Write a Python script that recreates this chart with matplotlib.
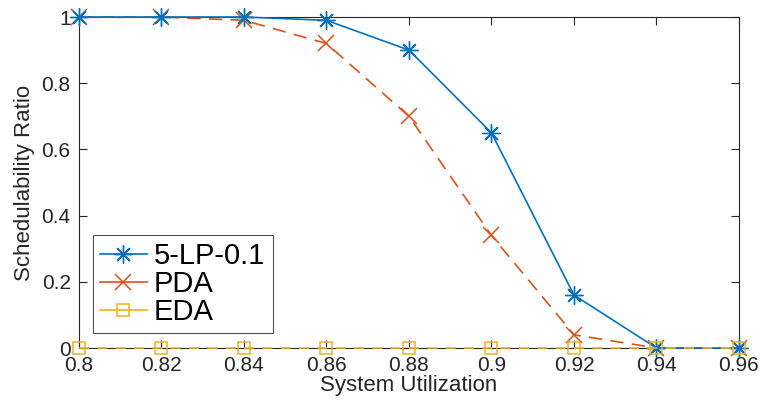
import numpy as np
import matplotlib.pyplot as plt

plt.rcParams['font.family'] = ['Liberation Sans', 'DejaVu Sans']

# schedulability ratio per system utilization
util = [0.80, 0.82, 0.84, 0.86, 0.88, 0.90, 0.92, 0.94, 0.96]
lp = [1.0, 1.0, 1.0, 0.99, 0.90, 0.65, 0.16, 0.0, 0.0]
pda = [1.0, 1.0, 0.99, 0.92, 0.70, 0.34, 0.04, 0.0, 0.0]
eda = [0.0, 0.0, 0.0, 0.0, 0.0, 0.0, 0.0, 0.0, 0.0]

xticks = [0.8, 0.82, 0.84, 0.86, 0.88, 0.9, 0.92, 0.94, 0.96]
xticklabels = ['0.8', '0.82', '0.84', '0.86', '0.88', '0.9', '0.92', '0.94', '0.96']
yticks = [0, 0.2, 0.4, 0.6, 0.8, 1]
yticklabels = ['0', '0.2', '0.4', '0.6', '0.8', '1']

axcol = '#262626'
asterisk = (8, 2, 0)

fig = plt.figure(figsize=(7.63, 4.05), dpi=100)
ax = fig.add_axes([0.1035, 0.1407, 0.865, 0.8173])

ax.plot(util, lp, color='#0072BD', lw=1.2, marker=asterisk, ms=13, mew=1.0,
        label='5-LP-0.1', zorder=5, clip_on=False)
ax.plot(util, pda, color='#D95319', lw=1.2, ls=(0, (8, 5)), marker='x', ms=11,
        mew=1.1, label='PDA', zorder=4, clip_on=False)
ax.plot(util, eda, color='#EDB120', lw=1.2, ls=(0, (6, 5)), marker='s', ms=8,
        mfc='none', mew=1.1, label='EDA', zorder=6, clip_on=False)

ax.set_xlim(0.8, 0.96)
ax.set_ylim(0, 1)
ax.set_xticks(xticks)
ax.set_xticklabels(xticklabels)
ax.set_yticks(yticks)
ax.set_yticklabels(yticklabels)

ax.tick_params(direction='in', top=True, right=True, length=6, width=0.8,
               colors=axcol, labelsize=15, pad=6)
for s in ax.spines.values():
    s.set_color(axcol)
    s.set_linewidth(0.8)

ax.set_xlabel('System Utilization', fontsize=16, color=axcol, labelpad=0)
ax.set_ylabel('Schedulability Ratio', fontsize=16, color=axcol, labelpad=5)

leg = ax.legend(loc='lower left', bbox_to_anchor=(0.021, 0.045), borderaxespad=0,
                fontsize=21, frameon=True, fancybox=False, edgecolor=axcol,
                handlelength=1.6, handletextpad=0.25, labelspacing=0.0,
                borderpad=0.25)
leg.get_frame().set_linewidth(0.8)
for h in leg.get_lines():
    h.set_linestyle('-')

fig.savefig('out.png', dpi=100)
